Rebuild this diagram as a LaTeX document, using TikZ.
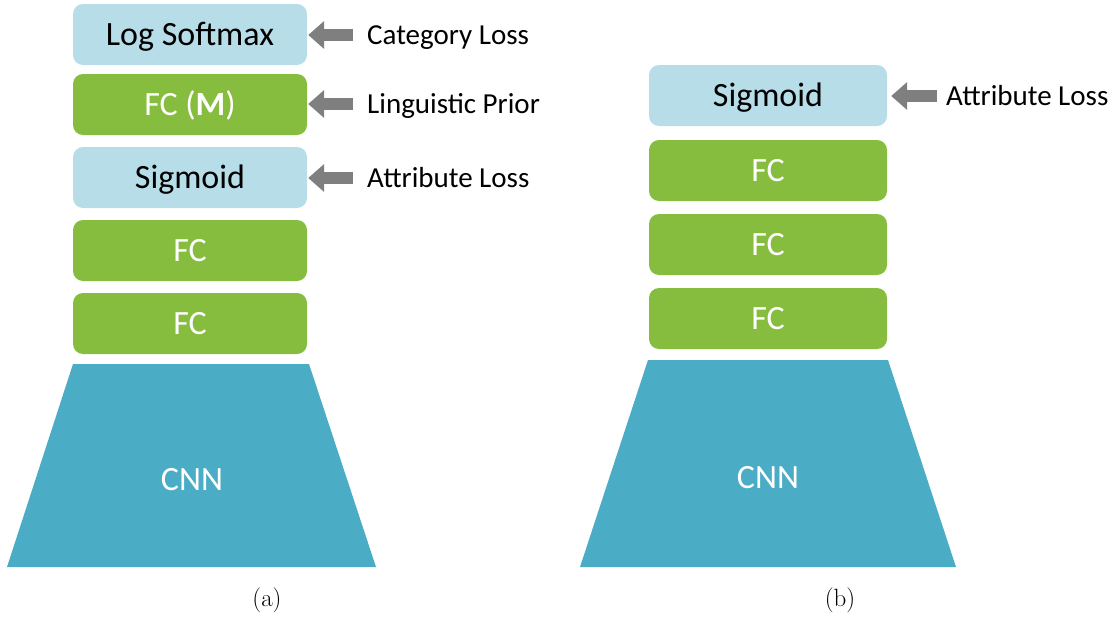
\documentclass[tikz,border=0pt]{standalone}
\usepackage{fontspec}
\newfontfamily\calib{Carlito}
\usetikzlibrary{arrows.meta}
\definecolor{boxblue}{HTML}{B7DEE8}
\definecolor{boxgreen}{HTML}{86BD3E}
\definecolor{cnnblue}{HTML}{4BACC6}
\definecolor{arrowgray}{HTML}{7F7F7F}
\begin{document}
\begin{tikzpicture}[x=1pt,y=-1pt,
  layer/.style={rounded corners=10pt, minimum height=61pt, inner sep=0pt,
    text height=21.8pt, text depth=0pt, font=\calib\fontsize{34}{38}\selectfont},
  softlayer/.style={layer, fill=boxblue, text=black},
  fclayer/.style={layer, fill=boxgreen, text=white},
  lefthead/.style={minimum width=234pt},
  righthead/.style={minimum width=238pt},
  cnntext/.style={text=white, inner sep=0pt, text height=21.8pt, text depth=0pt,
    font=\calib\fontsize{34}{38}\selectfont},
  losslabel/.style={anchor=west, inner sep=0pt, text height=18.6pt, text depth=0pt,
    font=\calib\fontsize{29}{33}\selectfont},
  lossarrow/.style={draw=arrowgray, line width=12pt, -{Triangle[length=16pt,width=27pt]}},
  subcap/.style={font=\fontsize{25}{29}\selectfont, inner sep=0pt}]
\useasboundingbox (0,0) rectangle (1116,621);

% ---------- (a) network with linguistic prior ----------
\coordinate (a-tl) at (73,364);
\coordinate (a-tr) at (309,364);
\coordinate (a-br) at (376,567);
\coordinate (a-bl) at (7,567);
\fill[cnnblue] (a-tl) -- (a-tr) -- (a-br) -- (a-bl) -- cycle;
\node[cnntext] (a-cnn) at (192,480) {CNN};

\node[softlayer, lefthead] (a-ls)  at (190,34.5)  {Log Softmax};
\node[fclayer,   lefthead] (a-fcm) at (190,104.5) {FC (\textbf{M})};
\node[softlayer, lefthead] (a-sig) at (190,177.5) {Sigmoid};
\node[fclayer,   lefthead] (a-fc2) at (190,250.5) {FC};
\node[fclayer,   lefthead] (a-fc1) at (190,323.5) {FC};

\node[losslabel] (a-cat)  at (367,35)  {Category Loss};
\node[losslabel] (a-ling) at (367,104) {Linguistic Prior};
\node[losslabel] (a-attr) at (367,178) {Attribute Loss};

\draw[lossarrow] ([xshift=-14pt]a-cat.west)  -- ([xshift=1pt]a-ls.east |- a-cat.west);
\draw[lossarrow] ([xshift=-14pt]a-ling.west) -- ([xshift=1pt]a-fcm.east |- a-ling.west);
\draw[lossarrow] ([xshift=-14pt]a-attr.west) -- ([xshift=1pt]a-sig.east |- a-attr.west);

\node[subcap] (a-cap) at (267,600) {(a)};

% ---------- (b) plain attribute network ----------
\coordinate (b-tl) at (648,360);
\coordinate (b-tr) at (888,360);
\coordinate (b-br) at (956,567);
\coordinate (b-bl) at (580,567);
\fill[cnnblue] (b-tl) -- (b-tr) -- (b-br) -- (b-bl) -- cycle;
\node[cnntext] (b-cnn) at (768,478) {CNN};

\node[softlayer, righthead] (b-sig) at (768,95.5)  {Sigmoid};
\node[fclayer,   righthead] (b-fc3) at (768,170.5) {FC};
\node[fclayer,   righthead] (b-fc2) at (768,244.5) {FC};
\node[fclayer,   righthead] (b-fc1) at (768,318.5) {FC};

\node[losslabel] (b-attr) at (946,96) {Attribute Loss};
\draw[lossarrow] ([xshift=-9pt]b-attr.west) -- ([xshift=4pt]b-sig.east |- b-attr.west);

\node[subcap] (b-cap) at (840,600) {(b)};
\end{tikzpicture}
\end{document}
